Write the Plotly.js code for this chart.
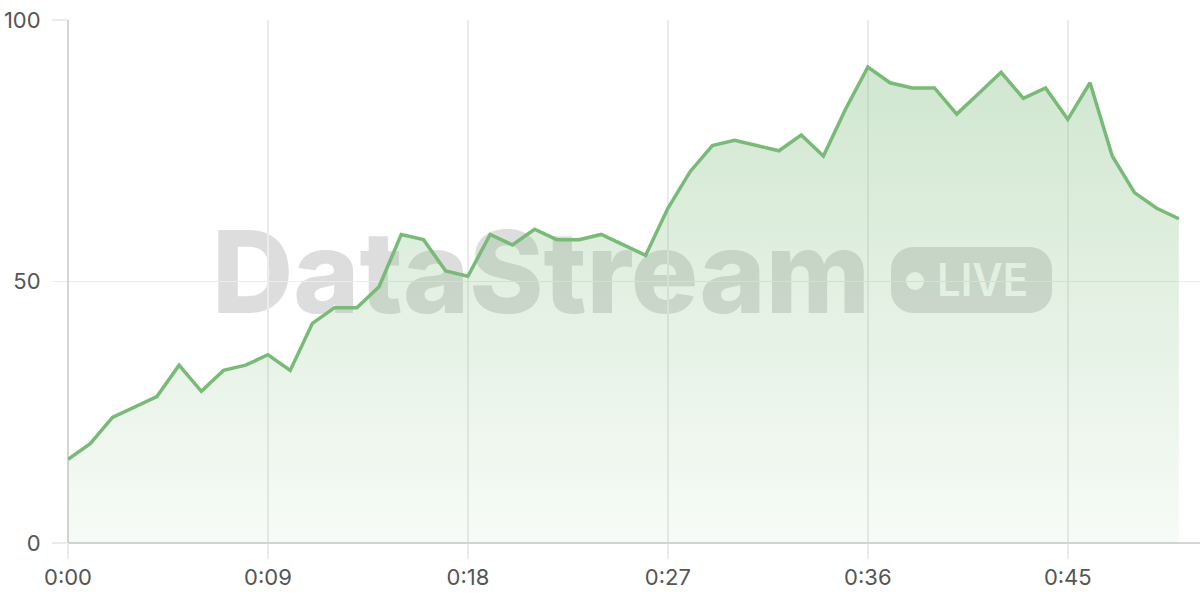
<!DOCTYPE html>
<html>
<head>
<meta charset="utf-8">
<script src="https://cdn.plot.ly/plotly-3.0.1.min.js"></script>
<style>
  html, body { margin: 0; padding: 0; background: #ffffff; }
  #chart { width: 1200px; height: 600px; }
</style>
</head>
<body>
<div id="chart"></div>
<script>
// ---- data ----
const seconds = [0,1,2,3,4,5,6,7,8,9,10,11,12,13,14,15,16,17,18,19,20,21,22,23,24,25,26,27,28,29,30,31,32,33,34,35,36,37,38,39,40,41,42,43,44,45,46,47,48,49,50];
const values  = [16,19,24,26,28,34,29,33,34,36,33,42,45,45,49,59,58,52,51,59,57,60,58,58,59,57,55,64,71,76,77,76,75,78,74,83,91,88,87,87,82,86,90,85,87,81,88,74,67,64,62];
const xTickVals = [0,9,18,27,36,45];
const xTickText = ['0:00','0:09','0:18','0:27','0:36','0:45'];
const yTickVals = [0,50,100];
const watermarkText = 'DataStream';
const badgeText = 'LIVE';

// ---- watermark (drawn beneath the traces) ----
const svg =
  '<svg xmlns="http://www.w3.org/2000/svg" width="1200" height="600" viewBox="0 0 1200 600">' +
  '<text x="212" y="313" font-family="Inter, Roboto, sans-serif" font-weight="800" font-size="114" ' +
  'fill="#dddddd" textLength="658" lengthAdjust="spacingAndGlyphs">' + watermarkText + '</text>' +
  '<rect x="891" y="247" width="161" height="66" rx="22" ry="22" fill="#dddddd"/>' +
  '<circle cx="915" cy="281" r="9" fill="#ffffff"/>' +
  '<text x="937" y="296" font-family="Inter, Roboto, sans-serif" font-weight="600" font-size="45" ' +
  'fill="#ffffff" textLength="91" lengthAdjust="spacingAndGlyphs">' + badgeText + '</text>' +
  '</svg>';
const svgSrc = 'data:image/svg+xml;charset=utf-8,' + encodeURIComponent(svg);

const trace = {
  type: 'scatter',
  mode: 'lines',
  x: seconds,
  y: values,
  line: { color: 'rgb(122,186,120)', width: 3.5, shape: 'linear' },
  fill: 'tozeroy',
  fillgradient: {
    type: 'vertical',
    start: 0,
    stop: 100,
    colorscale: [[0, 'rgba(122,186,120,0.06)'], [1, 'rgba(122,186,120,0.38)']]
  },
  hoverinfo: 'x+y',
  showlegend: false
};

const plotW = 1200 - 68, plotH = 600 - 20 - 57;

const layout = {
  width: 1200,
  height: 600,
  margin: { l: 68, r: 0, t: 20, b: 57, pad: 0 },
  paper_bgcolor: '#ffffff',
  plot_bgcolor: 'rgba(0,0,0,0)',
  font: { family: 'Inter, Roboto, sans-serif', size: 22, color: '#555555' },
  showlegend: false,
  xaxis: {
    range: [0, 50.95],
    tickvals: xTickVals,
    ticktext: xTickText,
    showgrid: true,
    gridcolor: '#ebebeb',
    gridwidth: 1.5,
    zeroline: true,
    zerolinecolor: '#d4d4d4',
    zerolinewidth: 1.5,
    showline: false,
    ticks: 'outside',
    ticklen: 15,
    tickcolor: '#ebebeb',
    tickwidth: 1.5,
    tickfont: { size: 22, color: '#555555' },
    fixedrange: true
  },
  yaxis: {
    range: [0, 100],
    tickvals: yTickVals,
    showgrid: true,
    gridcolor: '#ebebeb',
    gridwidth: 1.5,
    zeroline: true,
    zerolinecolor: '#d4d4d4',
    zerolinewidth: 1.5,
    showline: false,
    ticks: 'outside',
    ticklen: 15,
    tickcolor: '#ebebeb',
    tickwidth: 1.5,
    ticklabelstandoff: 7,
    tickfont: { size: 22, color: '#555555' },
    fixedrange: true
  },
  images: [{
    source: svgSrc,
    xref: 'paper', yref: 'paper',
    x: -68 / plotW, y: 1 + 20 / plotH,
    sizex: 1200 / plotW, sizey: 600 / plotH,
    xanchor: 'left', yanchor: 'top',
    sizing: 'stretch',
    layer: 'below'
  }]
};

Plotly.newPlot('chart', [trace], layout, { displayModeBar: false, staticPlot: true });
</script>
</body>
</html>
